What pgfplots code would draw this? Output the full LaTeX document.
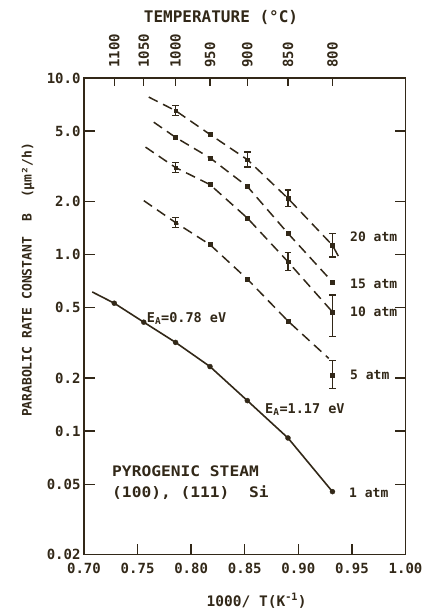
\documentclass[border=0pt]{standalone}
\usepackage{fontspec}
\setmainfont{DejaVu Sans Mono Bold}
\newfontfamily\widefont{DejaVu Sans Mono Bold}[FakeStretch=1.12]
\usepackage{pgfplots}
\pgfplotsset{compat=1.18}
\definecolor{ink}{RGB}{50,40,24}

\pgfplotstableread{
x y ep em
0.78545 6.53 0.441 0.413
0.85241 3.45 0.354 0.322
0.89035 2.08 0.238 0.213
0.93184 1.129 0.185 0.159
}\atmtwentybars
\pgfplotstableread{
x y ep em
0.78545 3.11 0.207 0.194
0.89035 0.910 0.113 0.101
0.93184 0.473 0.117 0.131
}\atmtenbars
\pgfplotstableread{
x y ep em
0.78545 1.517 0.101 0.095
0.93184 0.2073 0.0447 0.033
}\atmfivebars

\begin{document}
\begin{tikzpicture}
\useasboundingbox (0,0) rectangle (426bp,609bp);
\begin{axis}[
  at={(84bp,54.5bp)}, anchor=south west,
  width=321.5bp, height=476.5bp, scale only axis,
  xmin=0.7, xmax=1.0, ymode=log, ymin=0.02, ymax=10,
  axis line style={ink, line width=1.6bp},
  xtick={0.70,0.75,0.80,0.85,0.90,0.95,1.00},
  xticklabels={0.70,0.75,0.80,0.85,0.90,0.95,1.00},
  ytick={0.02,0.05,0.1,0.2,0.5,1,2,5,10},
  yticklabels={0.02,0.05,0.1,0.2,0.5,1.0,2.0,5.0,10.0},
  xtick pos=left, ytick pos=both, tick align=inside,
  yminorticks=false, xminorticks=false,
  major tick length=11bp,
  tick style={ink, line width=1.4bp},
  tick label style={font=\fontsize{14bp}{14bp}\selectfont, text=ink},
  xticklabel shift=5bp,
  yticklabel shift=0bp,
  error bars/error bar style={ink, line width=1.3bp, solid},
  error bars/error mark options={ink, line width=1.3bp, mark size=3.3bp, rotate=90},
]
% 1 atm
\addplot[ink, line width=1.6bp] coordinates {(0.7077,0.614) (0.72825,0.53) (0.75577,0.414) (0.78545,0.318) (0.81756,0.232) (0.85241,0.1488) (0.89035,0.0914) (0.93184,0.0454)};
\addplot[ink, only marks, mark=*, mark size=2.5bp] coordinates {(0.72825,0.53) (0.75577,0.414) (0.78545,0.318) (0.81756,0.232) (0.85241,0.1488) (0.89035,0.0914) (0.93184,0.0454)};
% 20 atm
\addplot[ink, line width=1.5bp, dash pattern=on 10bp off 6bp] coordinates {(0.7604,7.80) (0.78545,6.53) (0.81756,4.79) (0.85241,3.45) (0.89035,2.08) (0.93184,1.129) (0.9385,0.95)};
\addplot[ink, only marks, mark=square*, mark size=2bp] coordinates {(0.81756,4.79)};
\addplot[ink, only marks, mark=square*, mark size=1.8bp, error bars/.cd, y dir=both, y explicit] table[x=x, y=y, y error plus=ep, y error minus=em] {\atmtwentybars};
% 15 atm
\addplot[ink, line width=1.5bp, dash pattern=on 10bp off 6bp] coordinates {(0.7651,5.62) (0.78545,4.61) (0.81756,3.53) (0.85241,2.43) (0.89035,1.318) (0.93184,0.699)};
\addplot[ink, only marks, mark=square*, mark size=2bp] coordinates {(0.78545,4.61) (0.81756,3.53) (0.85241,2.43) (0.89035,1.318) (0.93184,0.699)};
% 10 atm
\addplot[ink, line width=1.5bp, dash pattern=on 10bp off 6bp] coordinates {(0.7574,4.06) (0.78545,3.11) (0.81756,2.49) (0.85241,1.61) (0.89035,0.910) (0.93184,0.473)};
\addplot[ink, only marks, mark=square*, mark size=2bp] coordinates {(0.81756,2.49) (0.85241,1.61)};
\addplot[ink, only marks, mark=square*, mark size=1.8bp, error bars/.cd, y dir=both, y explicit] table[x=x, y=y, y error plus=ep, y error minus=em] {\atmtenbars};
% 5 atm
\addplot[ink, line width=1.5bp, dash pattern=on 10bp off 6bp] coordinates {(0.7558,2.02) (0.78545,1.517) (0.81756,1.138) (0.85241,0.726) (0.89035,0.420) (0.9284,0.258)};
\addplot[ink, only marks, mark=square*, mark size=2bp] coordinates {(0.81756,1.138) (0.85241,0.726) (0.89035,0.420)};
\addplot[ink, only marks, mark=square*, mark size=1.8bp, error bars/.cd, y dir=both, y explicit] table[x=x, y=y, y error plus=ep, y error minus=em] {\atmfivebars};
\end{axis}
\begin{axis}[
  at={(84bp,54.5bp)}, anchor=south west,
  width=321.5bp, height=476.5bp, scale only axis,
  xmin=0.7, xmax=1.0, ymode=log, ymin=0.02, ymax=10,
  axis x line*=top, axis y line=none, tick align=inside,
  axis line style={ink, line width=1.6bp},
  xtick={0.72825,0.75577,0.78545,0.81756,0.85241,0.89035,0.93184},
  xticklabels={1100,1050,1000,950,900,850,800},
  xminorticks=false,
  major tick length=8bp,
  tick style={ink, line width=1.4bp},
  xticklabel style={rotate=90, anchor=west, font=\fontsize{14bp}{14bp}\selectfont, text=ink},
  xticklabel shift=7bp,
]
\end{axis}
\begin{scope}[every node/.style={text=ink, inner sep=0pt}]
\node[anchor=center, font=\fontsize{16bp}{16bp}\selectfont] at (221bp,591.5bp) {TEMPERATURE (°C)};
\node[anchor=center, font=\fontsize{14.5bp}{14.5bp}\selectfont] at (256.7bp,8.3bp) {1000/ T(K\textsuperscript{-1})};
\node[anchor=center, rotate=90, font=\fontsize{13bp}{13bp}\selectfont] at (28bp,329bp) {PARABOLIC RATE CONSTANT~~B~~(μm²/h)};
\node[anchor=west, font=\fontsize{13bp}{13bp}\selectfont] at (350bp,372.3bp) {20 atm};
\node[anchor=west, font=\fontsize{13bp}{13bp}\selectfont] at (350bp,325bp) {15 atm};
\node[anchor=west, font=\fontsize{13bp}{13bp}\selectfont] at (350bp,297bp) {10 atm};
\node[anchor=west, font=\fontsize{13bp}{13bp}\selectfont] at (350bp,234bp) {5 atm};
\node[anchor=west, font=\fontsize{13bp}{13bp}\selectfont] at (349bp,115.7bp) {1 atm};
\node[anchor=west, font=\fontsize{13.5bp}{13.5bp}\selectfont] at (146.7bp,290.7bp) {E\textsubscript{A}=0.78 eV};
\node[anchor=west, font=\fontsize{13.5bp}{13.5bp}\selectfont] at (265bp,199bp) {E\textsubscript{A}=1.17 eV};
\node[anchor=west, font=\widefont\fontsize{14.5bp}{14.5bp}\selectfont] at (112bp,137.3bp) {PYROGENIC STEAM};
\node[anchor=west, font=\widefont\fontsize{14.5bp}{14.5bp}\selectfont] at (112bp,116.3bp) {(100), (111)~~Si};
\end{scope}
\end{tikzpicture}
\end{document}
